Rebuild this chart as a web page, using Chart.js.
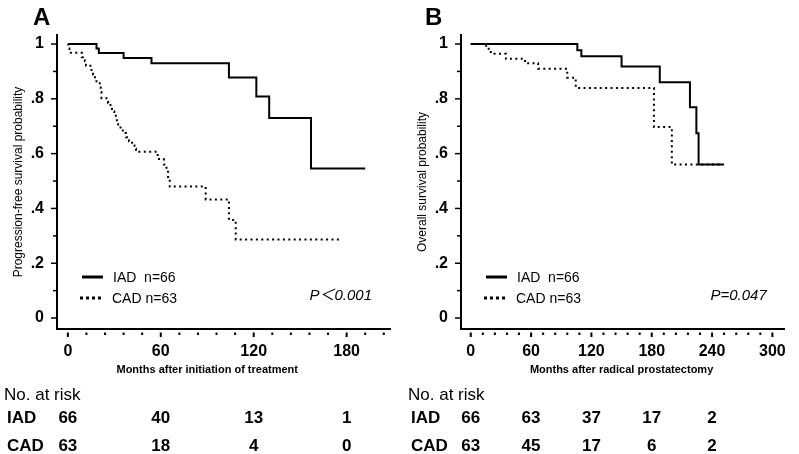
<!DOCTYPE html>
<html><head><meta charset="utf-8">
<script src="https://cdn.jsdelivr.net/npm/chart.js@4.4.0/dist/chart.umd.min.js"></script>
<style>
html,body{margin:0;padding:0;background:#fff;}
#wrap{position:relative;width:799px;height:454px;overflow:hidden;background:#fff;}
.panel{position:absolute;top:0;height:454px;}
#pa{left:0;width:400px;}
#pb{left:400px;width:399px;}
</style></head><body>
<div id="wrap">
  <div class="panel" id="pa"><canvas id="ca"></canvas></div>
  <div class="panel" id="pb"><canvas id="cb"></canvas></div>
</div>
<script>
// ---------- Panel A: progression-free survival ----------
const timeA_IAD = [0, 18.5, 20, 36, 54, 104, 121.7, 130, 157, 192];
const survA_IAD = [1, 0.984, 0.967, 0.949, 0.930, 0.878, 0.809, 0.730, 0.546, 0.546];
const timeA_CAD = [0, 0.3, 1, 9, 11, 11.7, 15.3, 16.3, 17.5, 18.5, 20.6, 21.2, 21.7, 26, 27.5, 28.5, 30, 31, 32.5, 34, 35.5, 37.5, 39.5, 41.5, 43, 44, 58, 62, 63.7, 64.7, 65.8, 89, 104, 108.4, 176.5];
const survA_CAD = [1, 0.984, 0.968, 0.952, 0.937, 0.921, 0.905, 0.889, 0.873, 0.857, 0.841, 0.825, 0.802, 0.785, 0.770, 0.754, 0.738, 0.722, 0.706, 0.690, 0.675, 0.660, 0.645, 0.630, 0.618, 0.607, 0.580, 0.560, 0.538, 0.515, 0.480, 0.433, 0.358, 0.287, 0.287];
const xLabelsA = [0, 60, 120, 180];
const xMinorA = [0, 12, 24, 36, 48, 60, 72, 84, 96, 108, 120, 132, 144, 156, 168, 180, 192, 204];
const riskTimesA = [0, 60, 120, 180];
const riskA_IAD = ['66', '40', '13', '1'];
const riskA_CAD = ['63', '18', '4', '0'];

// ---------- Panel B: overall survival ----------
const timeB_IAD = [0, 106, 110, 150, 188, 218, 224.4, 226.6, 252];
const survB_IAD = [1, 0.977, 0.955, 0.918, 0.861, 0.769, 0.674, 0.560, 0.560];
const timeB_CAD = [0, 15.3, 20, 35, 54, 67, 96, 104.4, 182.2, 200, 249];
const survB_CAD = [1, 0.983, 0.965, 0.946, 0.930, 0.910, 0.877, 0.840, 0.697, 0.560, 0.560];
const xLabelsB = [0, 60, 120, 180, 240, 300];
const xMinorB = [0, 12, 24, 36, 48, 60, 72, 84, 96, 108, 120, 132, 144, 156, 168, 180, 192, 204, 216, 228, 240, 252, 264, 276, 288, 300];
const riskTimesB = [0, 60, 120, 180, 240];
const riskB_IAD = ['66', '63', '37', '17', '2'];
const riskB_CAD = ['63', '45', '17', '6', '2'];

// ---------- shared ----------
const yTickValues = [0, 0.2, 0.4, 0.6, 0.8, 1];
const yTickLabels = ['0', '.2', '.4', '.6', '.8', '1'];
const yMinorTicks = [0, 0.1, 0.2, 0.3, 0.4, 0.5, 0.6, 0.7, 0.8, 0.9, 1];
const seriesNames = ['IAD  n=66', 'CAD n=63'];

const FONT = "'Liberation Sans', 'Noto Sans CJK JP', Arial, Helvetica, sans-serif";

function pts(xs, ys) { return xs.map((x, i) => ({x: x, y: ys[i]})); }

function text(ctx, str, x, yc, font, size, align) {
  ctx.font = font + ' ' + size + 'px ' + FONT;
  ctx.textAlign = align || 'left';
  ctx.textBaseline = 'alphabetic';
  ctx.fillText(str, x, yc + 0.36 * size);
}

function extras(cfg) {
  return {
    id: 'extras',
    afterDraw(chart) {
      const ctx = chart.ctx, xs = chart.scales.x, ys = chart.scales.y, a = chart.chartArea;
      ctx.save();
      ctx.fillStyle = '#000'; ctx.strokeStyle = '#000';
      // y tick marks
      ctx.lineWidth = 1.5;
      yMinorTicks.forEach((v, i) => {
        const y = ys.getPixelForValue(v);
        const len = (i % 2 === 0) ? 5 : 3;
        ctx.beginPath(); ctx.moveTo(a.left - 1 - len, y); ctx.lineTo(a.left - 1, y); ctx.stroke();
      });
      // x tick marks
      ctx.lineWidth = 2;
      cfg.xMinor.forEach(v => {
        const x = xs.getPixelForValue(v);
        const len = (v % 60 === 0) ? 4.5 : 2.5;
        ctx.beginPath(); ctx.moveTo(x, a.bottom + 3.5); ctx.lineTo(x, a.bottom + 3.5 + len); ctx.stroke();
      });
      // panel letter
      text(ctx, cfg.letter, cfg.letterX, 16, 'bold', 24, 'left');
      // x axis title
      const xc = (xs.getPixelForValue(cfg.xLabels[0]) + xs.getPixelForValue(cfg.xLabels[cfg.xLabels.length - 1])) / 2;
      text(ctx, cfg.xTitle, xc, 369, 'bold', 11, 'center');
      // legend
      ctx.lineWidth = 3;
      ctx.setLineDash([]);
      ctx.beginPath(); ctx.moveTo(a.left + 25, 277); ctx.lineTo(a.left + 46, 277); ctx.stroke();
      ctx.setLineDash([3, 3]);
      ctx.beginPath(); ctx.moveTo(a.left + 23, 298); ctx.lineTo(a.left + 47, 298); ctx.stroke();
      ctx.setLineDash([]);
      text(ctx, seriesNames[0], a.left + 56, 277, 'normal', 14, 'left');
      text(ctx, seriesNames[1], a.left + 55, 298, 'normal', 14, 'left');
      // p-value
      text(ctx, cfg.pText, a.right - 18, 295, 'italic', 15, 'right');
      // number at risk table
      text(ctx, 'No. at risk', a.left - 53, 394, 'normal', 17, 'left');
      text(ctx, 'IAD', a.left - 50, 417, 'bold', 17, 'left');
      text(ctx, 'CAD', a.left - 50, 445, 'bold', 17, 'left');
      cfg.riskTimes.forEach((t, i) => {
        const x = xs.getPixelForValue(t);
        text(ctx, cfg.riskIAD[i], x, 417, 'bold', 17, 'center');
        text(ctx, cfg.riskCAD[i], x, 445, 'bold', 17, 'center');
      });
      ctx.restore();
    }
  };
}

function makeChart(id, cfg) {
  return new Chart(document.getElementById(id), {
    type: 'line',
    data: {
      datasets: [
        {label: 'IAD', data: pts(cfg.tI, cfg.sI), stepped: true, borderColor: '#000', borderWidth: 2, pointRadius: 0, fill: false},
        {label: 'CAD', data: pts(cfg.tC, cfg.sC), stepped: true, borderColor: '#000', borderWidth: 2, borderDash: [2, 3.4], borderCapStyle: 'butt', pointRadius: 0, fill: false}
      ]
    },
    options: {
      responsive: true,
      maintainAspectRatio: false,
      animation: false,
      layout: {padding: {left: cfg.padLeft, top: 35, right: cfg.padRight, bottom: 0}},
      plugins: {legend: {display: false}, tooltip: {enabled: false}},
      scales: {
        x: {
          type: 'linear', min: cfg.xMin, max: cfg.xMax,
          afterFit: s => { s.height = 125; },
          afterBuildTicks: s => { s.ticks = cfg.xLabels.map(v => ({value: v})); },
          ticks: {autoSkip: false, maxRotation: 0, padding: 13, color: '#000', font: {family: FONT, size: 16, weight: 'bold'}, callback: v => String(v)},
          grid: {display: false, drawTicks: false},
          border: {display: true, width: 2, color: '#000'}
        },
        y: {
          type: 'linear', min: -0.04, max: 1.033,
          afterFit: s => { s.width = 57; },
          afterBuildTicks: s => { s.ticks = yTickValues.map(v => ({value: v})); },
          ticks: {autoSkip: false, padding: 13, color: '#000', font: {family: FONT, size: 16, weight: 'bold'}, callback: (v, i) => yTickLabels[i]},
          grid: {display: false, drawTicks: false},
          border: {display: true, width: 2, color: '#000'},
          title: {display: true, text: cfg.yTitle, color: '#000', font: {family: FONT, size: 12}, padding: {top: 11, bottom: 0}}
        }
      }
    },
    plugins: [extras(cfg)]
  });
}

makeChart('ca', {
  tI: timeA_IAD, sI: survA_IAD, tC: timeA_CAD, sC: survA_CAD,
  xMin: -7, xMax: 208, padLeft: 0, padRight: 10,
  xLabels: xLabelsA, xMinor: xMinorA,
  riskTimes: riskTimesA, riskIAD: riskA_IAD, riskCAD: riskA_CAD,
  letter: 'A', letterX: 33,
  xTitle: 'Months after initiation of treatment',
  yTitle: 'Progression-free survival probability',
  pText: 'P\uFF1C0.001'
});
makeChart('cb', {
  tI: timeB_IAD, sI: survB_IAD, tC: timeB_CAD, sC: survB_CAD,
  xMin: -9.7, xMax: 312.3, padLeft: 4, padRight: 7,
  xLabels: xLabelsB, xMinor: xMinorB,
  riskTimes: riskTimesB, riskIAD: riskB_IAD, riskCAD: riskB_CAD,
  letter: 'B', letterX: 25,
  xTitle: 'Months after radical prostatectomy',
  yTitle: 'Overall survival probability',
  pText: 'P=0.047'
});
</script>
</body></html>
